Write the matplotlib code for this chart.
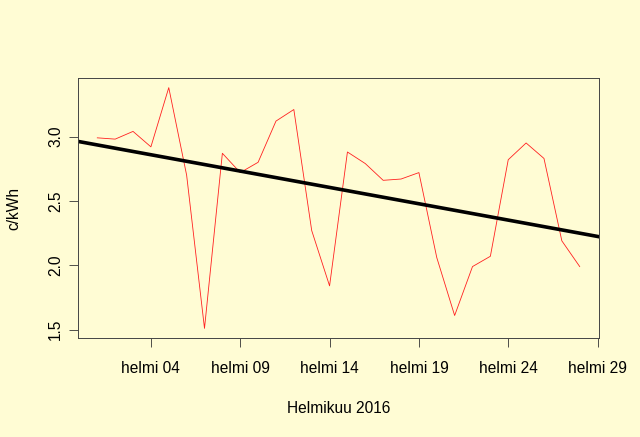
import matplotlib
matplotlib.use("Agg")
import matplotlib.pyplot as plt
import numpy as np

# Helmikuu 2016, päivät 1..28
days = list(range(1, 29))
price = [2.99, 2.98, 3.04, 2.92, 3.38, 2.70, 1.51, 2.87, 2.72, 2.80,
         3.12, 3.21, 2.27, 1.84, 2.88, 2.79, 2.66, 2.67, 2.72, 2.06,
         1.61, 1.99, 2.07, 2.82, 2.95, 2.83, 2.19, 1.99]

tick_days = [4, 9, 14, 19, 24, 29]
tick_labels = ['helmi %02d' % d for d in tick_days]
y_ticks = [1.5, 2.0, 2.5, 3.0]

bg = '#FFFCD4'
fs = 11.2
plt.rcParams['font.family'] = ['Liberation Sans', 'DejaVu Sans']

fig = plt.figure(figsize=(6.4, 4.37), dpi=100, facecolor=bg)
ax = fig.add_axes([78 / 640, 1 - 338 / 437, (599 - 78) / 640, (338 - 78) / 437])
ax.set_facecolor(bg)

x = np.array(days, dtype=float)
y = np.array(price)
ax.plot(x, y, color='#FF2020', linewidth=0.6)

# lineaarinen trendi
k, b = np.polyfit(x, y, 1)
ax.axline((0, b), slope=k, color='black', linewidth=2.6)

# R-tyylinen 4 % marginaali
xr = x.max() - x.min()
yr = y.max() - y.min()
ax.set_xlim(x.min() - 0.04 * xr, x.max() + 0.04 * xr)
ax.set_ylim(y.min() - 0.04 * yr, y.max() + 0.04 * yr)

ax.set_xticks(tick_days)
ax.set_xticklabels(tick_labels, fontsize=fs)
ax.set_yticks(y_ticks)
ax.set_yticklabels(['%.1f' % v for v in y_ticks], fontsize=fs, rotation=90, va='center')
ax.tick_params(direction='out', length=6.8, width=0.6, color='#333333')
ax.tick_params(axis='x', pad=10)
ax.tick_params(axis='y', pad=4)
for s in ax.spines.values():
    s.set_color('#444444')
    s.set_linewidth(0.7)

ax.set_xlabel('Helmikuu 2016', fontsize=fs, labelpad=18)
ax.set_ylabel('c/kWh', fontsize=fs, labelpad=19)

fig.savefig('out.png', dpi=100, facecolor=bg)
